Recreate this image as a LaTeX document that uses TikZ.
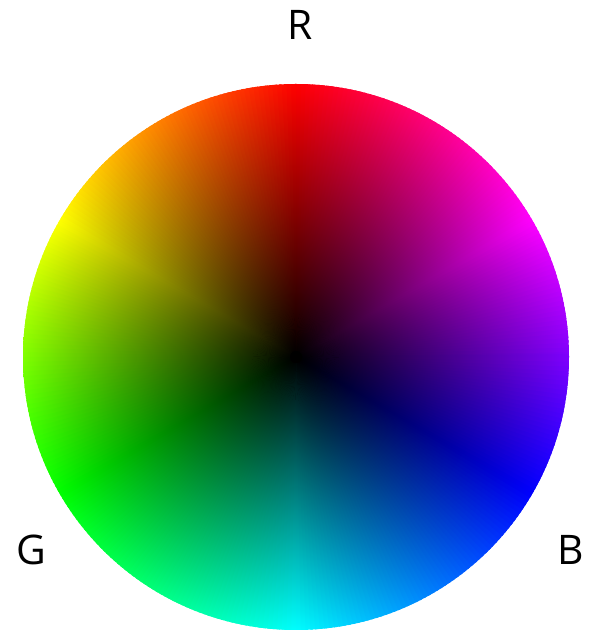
\documentclass[tikz,border=0pt]{standalone}
\usepackage{fontspec}
\setsansfont{Open Sans}
\usepackage{tikz}

\begin{document}
\begin{tikzpicture}[x=0.025cm, y=0.025cm,
  lbl/.style={font=\sffamily\fontsize{29}{34}\selectfont, inner sep=0pt}]
\useasboundingbox (0,0) rectangle (594,631);
\coordinate (c) at (296,274);
\fill[black] (c) circle[radius=272];
% hue wedges, black in the middle
\foreach \a in {0,1,...,359} {
  \pgfmathsetmacro\h{mod(\a+0.5+270,360)/360}
  \definecolor{wc}{hsb}{\h,1,1}
  \begin{scope}
    \clip (c) -- ++(\a:290) arc[start angle=\a, end angle=\a+1.6, radius=290] -- cycle;
    \shade[inner color=black, outer color=wc] (c) circle[radius=273];
  \end{scope}
}
\fill[black] (c) circle[radius=6];
\node[lbl] (r) at (300,606) {R};
\node[lbl] (g) at (31,81) {G};
\node[lbl] (b) at (571,81) {B};
\end{tikzpicture}
\end{document}
